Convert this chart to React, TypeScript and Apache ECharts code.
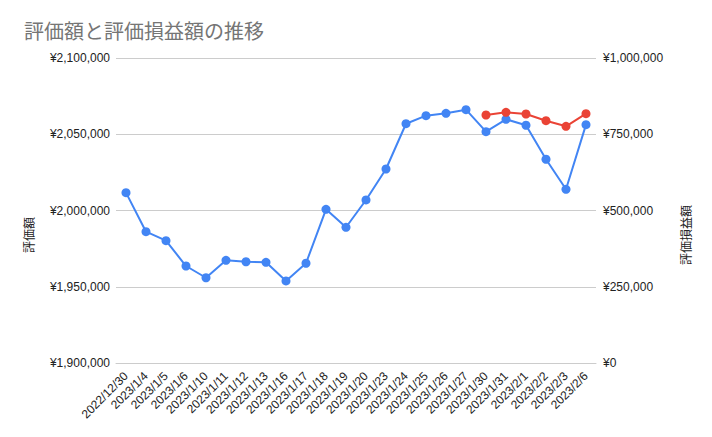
import React, { useEffect, useRef } from "react";
import * as echarts from "echarts";

const categories = [
  "2022/12/30", "2023/1/4", "2023/1/5", "2023/1/6", "2023/1/10", "2023/1/11",
  "2023/1/12", "2023/1/13", "2023/1/16", "2023/1/17", "2023/1/18", "2023/1/19",
  "2023/1/20", "2023/1/23", "2023/1/24", "2023/1/25", "2023/1/26", "2023/1/27",
  "2023/1/30", "2023/1/31", "2023/2/1", "2023/2/2", "2023/2/3", "2023/2/6",
];

const valuation = [
  2011700, 1986100, 1980200, 1963600, 1955900, 1967300,
  1966400, 1966000, 1953800, 1965400, 2000800, 1989000,
  2006900, 2027200, 2056900, 2062200, 2063700, 2066100,
  2051700, 2059800, 2055900, 2033600, 2013900, 2056300,
];

const profitLoss = [
  null, null, null, null, null, null,
  null, null, null, null, null, null,
  null, null, null, null, null, null,
  813100, 822000, 816400, 794400, 776100, 817400,
];

const leftTicks = { min: 1900000, max: 2100000, interval: 50000 };
const rightTicks = { min: 0, max: 1000000, interval: 250000 };

const titleText = "評価額と評価損益額の推移";
const leftName = "評価額";
const rightName = "評価損益額";

const FONT = "'Liberation Sans', Arial, 'Noto Sans CJK JP', sans-serif";
const CJK = "'Noto Sans CJK JP', 'Liberation Sans', sans-serif";

const yen = (v: number) => "¥" + String(v).replace(/\B(?=(\d{3})+(?!\d))/g, ",");

export default function App() {
  const ref = useRef<HTMLDivElement>(null);
  useEffect(() => {
    if (!ref.current) return;
    const chart = echarts.init(ref.current, undefined, { renderer: "svg" });
    chart.setOption({
      animation: false,
      backgroundColor: "#ffffff",
      title: {
        text: titleText,
        left: 19,
        top: 15,
        textStyle: { fontFamily: CJK, fontSize: 20, fontWeight: "normal", color: "#757575" },
      },
      grid: { left: 116, right: 116, top: 58, bottom: 74, containLabel: false },
      xAxis: {
        type: "category",
        data: categories,
        boundaryGap: true,
        axisTick: { show: false },
        axisLine: { show: true, lineStyle: { color: "#cccccc", width: 1 } },
        axisLabel: {
          interval: 0,
          rotate: 45,
          fontFamily: FONT,
          fontSize: 12,
          color: "#222222",
          margin: 11,
        },
      },
      yAxis: [
        {
          type: "value",
          min: leftTicks.min,
          max: leftTicks.max,
          interval: leftTicks.interval,
          axisLine: { show: false },
          axisTick: { show: false },
          splitLine: { show: true, lineStyle: { color: "#cccccc", width: 1 } },
          axisLabel: { formatter: yen, fontFamily: FONT, fontSize: 12, color: "#222222", margin: 6 },
        },
        {
          type: "value",
          min: rightTicks.min,
          max: rightTicks.max,
          interval: rightTicks.interval,
          position: "right",
          axisLine: { show: false },
          axisTick: { show: false },
          splitLine: { show: false },
          axisLabel: { formatter: yen, fontFamily: FONT, fontSize: 12, color: "#222222", margin: 7 },
        },
      ],
      graphic: [
        {
          type: "text",
          x: 28,
          y: 235,
          rotation: Math.PI / 2,
          style: {
            text: leftName,
            fontFamily: CJK,
            fontSize: 12,
            fill: "#222222",
            align: "center",
            verticalAlign: "middle",
          },
        },
        {
          type: "text",
          x: 685,
          y: 235,
          rotation: Math.PI / 2,
          style: {
            text: rightName,
            fontFamily: CJK,
            fontSize: 12,
            fill: "#222222",
            align: "center",
            verticalAlign: "middle",
          },
        },
      ],
      series: [
        {
          name: leftName,
          type: "line",
          yAxisIndex: 0,
          data: valuation,
          symbol: "circle",
          symbolSize: 9,
          lineStyle: { color: "#4285F4", width: 2 },
          itemStyle: { color: "#4285F4" },
        },
        {
          name: rightName,
          type: "line",
          yAxisIndex: 1,
          data: profitLoss,
          symbol: "circle",
          symbolSize: 9,
          lineStyle: { color: "#EA4335", width: 2 },
          itemStyle: { color: "#EA4335" },
        },
      ],
    });
    return () => chart.dispose();
  }, []);
  return (
    <div
      ref={ref}
      style={{ position: "fixed", left: 0, top: 0, width: 712, height: 437 }}
    />
  );
}
